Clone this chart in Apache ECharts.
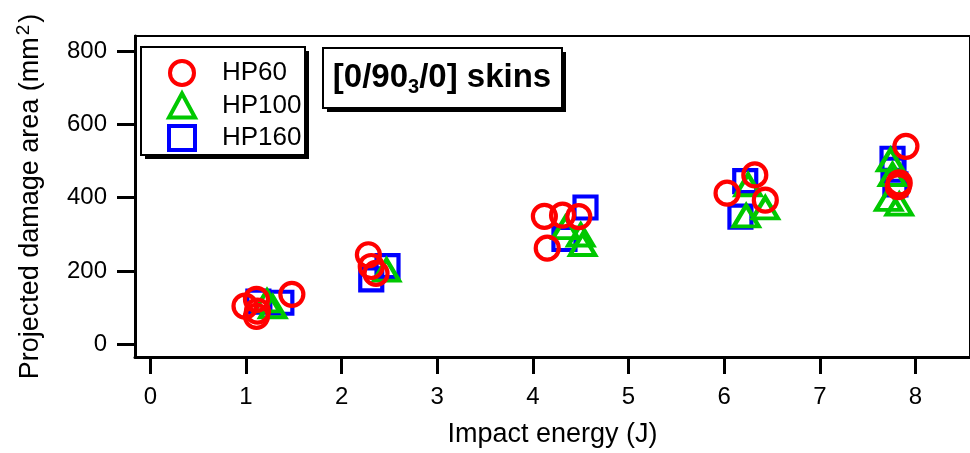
<!DOCTYPE html>
<html>
<head>
<meta charset="utf-8">
<script src="https://cdn.jsdelivr.net/npm/echarts@6/dist/echarts.min.js"></script>
<style>
html, body { margin: 0; padding: 0; background: #fff; }
#chart { width: 970px; height: 453px; }
</style>
</head>
<body>
<div id="chart"></div>
<script>
// impact energy (J) vs projected damage area (mm^2)
const hp60 = [[0.99, 104], [1.11, 122], [1.12, 90], [1.11, 76], [1.48, 136],
  [2.28, 244], [2.31, 212], [2.36, 193],
  [4.12, 349], [4.15, 262], [4.31, 352], [4.48, 348],
  [6.03, 412], [6.32, 462], [6.43, 393],
  [7.90, 540], [7.83, 440], [7.82, 430]]
const hp100 = [[1.22, 118], [1.28, 102],
  [2.47, 202],
  [4.34, 318], [4.50, 298], [4.52, 272],
  [6.25, 435], [6.23, 350], [6.43, 372],
  [7.74, 503], [7.76, 463], [7.72, 395], [7.83, 382]]
const hp160 = [[1.13, 116], [1.37, 113],
  [2.31, 177], [2.48, 213],
  [4.33, 287], [4.55, 373],
  [6.22, 445], [6.17, 348],
  [7.76, 506], [7.77, 476], [7.79, 436]]
const xTicks = [0, 1, 2, 3, 4, 5, 6, 7, 8]
const yTicks = [0, 200, 400, 600, 800]

const font = 'Arial, "Liberation Sans", sans-serif'

function series(name, data, symbol, size, color) {
  return {
    name: name,
    type: 'scatter',
    data: data,
    symbol: symbol,
    symbolSize: size,
    itemStyle: { color: 'transparent', borderColor: color, borderWidth: 4.2, opacity: 1 },
    emphasis: { disabled: true },
  }
}

// box with a hard drop shadow on the right and bottom
function box(x, y, w, h) {
  return [
    { type: 'rect', z: 3, shape: { x: x + 4, y: y + 4, width: w, height: h }, style: { fill: '#000' } },
    { type: 'rect', z: 3, shape: { x: x, y: y, width: w, height: h }, style: { fill: '#fff', stroke: '#000', lineWidth: 2 } },
  ]
}

const chart = echarts.init(document.getElementById('chart'))
chart.setOption({
  animation: false,
  backgroundColor: '#fff',
  textStyle: { fontFamily: font },
  grid: {
    left: 135, top: 36, right: -3, bottom: 95,
    show: true, borderColor: '#000', borderWidth: 2,
  },
  xAxis: {
    type: 'value',
    min: -0.16,
    max: 8.57,
    name: 'Impact energy (J)',
    nameLocation: 'middle',
    nameGap: 64,
    nameTextStyle: { fontSize: 27, color: '#000', fontFamily: font },
    splitLine: { show: false },
    axisLine: { onZero: false, lineStyle: { color: '#000', width: 3 } },
    axisTick: { customValues: xTicks, length: 17, lineStyle: { color: '#000', width: 3 } },
    axisLabel: { customValues: xTicks, fontSize: 24, color: '#000', margin: 28, fontFamily: font },
  },
  yAxis: {
    type: 'value',
    min: -35,
    max: 841,
    name: '{t|Projected damage area (mm}{s|2}{t|)}',
    nameLocation: 'middle',
    nameGap: 87,
    nameTextStyle: {
      color: '#000',
      fontFamily: font,
      rich: {
        t: { fontSize: 27, lineHeight: 34, color: '#000', fontFamily: font },
        s: { fontSize: 19, lineHeight: 19, padding: [0, 2, 0, 2], verticalAlign: 'top', color: '#000', fontFamily: font },
      },
    },
    splitLine: { show: false },
    axisLine: { onZero: false, lineStyle: { color: '#000', width: 3 } },
    axisTick: { customValues: yTicks, length: 18, lineStyle: { color: '#000', width: 3 } },
    axisLabel: { customValues: yTicks, fontSize: 24, color: '#000', margin: 28, fontFamily: font },
  },
  legend: {
    orient: 'vertical',
    left: 167,
    top: 59,
    z: 10,
    padding: 0,
    itemWidth: 26,
    itemHeight: 24,
    itemGap: 4.5,
    data: ['HP60', 'HP100', 'HP160'],
    itemStyle: { borderWidth: 4 },
    textStyle: { fontSize: 26, lineHeight: 24, padding: [0, 0, 0, 22], color: '#000', fontFamily: font },
    selectedMode: false,
  },
  graphic: [
    ...box(141, 47, 164, 108),
    ...box(323, 48, 239, 60),
    {
      type: 'text',
      z: 4,
      x: 442,
      y: 78,
      style: {
        text: '{b|[0/90}{s|3}{b|/0] skins}',
        align: 'center',
        verticalAlign: 'middle',
        rich: {
          b: { fontSize: 33, fontWeight: 'bold', lineHeight: 38, fill: '#000', fontFamily: font },
          s: { fontSize: 20, fontWeight: 'bold', lineHeight: 20, padding: [18, 0, 0, 0], verticalAlign: 'bottom', fill: '#000', fontFamily: font },
        },
      },
    },
  ],
  series: [
    series('HP160', hp160, 'rect', 22, '#0000ff'),
    series('HP100', hp100, 'triangle', [25, 21], '#00c800'),
    series('HP60', hp60, 'circle', 23, '#ff0000'),
  ],
})
</script>
</body>
</html>
